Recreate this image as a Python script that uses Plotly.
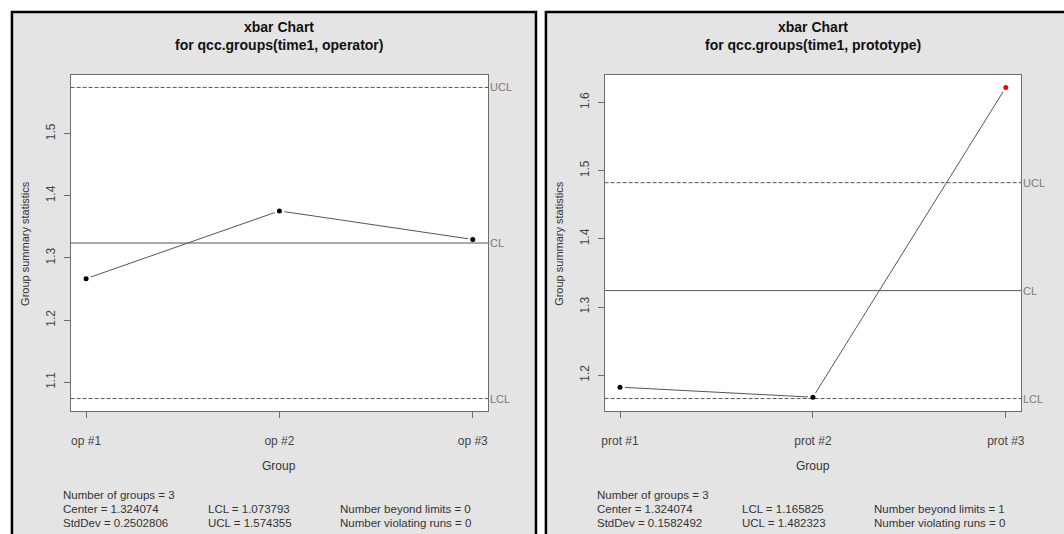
import plotly.graph_objects as go

# Group means and control limits for the two xbar charts
op_groups = ["op #1", "op #2", "op #3"]
op_means = [1.2667, 1.3757, 1.3298]
op_center = 1.324074
op_lcl = 1.073793
op_ucl = 1.574355
op_sd = "0.2502806"
op_beyond = 0

prot_groups = ["prot #1", "prot #2", "prot #3"]
prot_means = [1.1825, 1.1678, 1.6219]
prot_center = 1.324074
prot_lcl = 1.165825
prot_ucl = 1.482323
prot_sd = "0.1582492"
prot_beyond = 1

W, H = 1064, 534
FONT = "Liberation Sans, Arial, sans-serif"
LINE_GREY = "#555555"
LABEL_GREY = "#7a7a7a"
PANEL_BG = "#e4e4e4"

fig = go.Figure()


def px_x(v):
    return v / W


def px_y(v):
    return 1 - v / H


panels = [
    dict(groups=op_groups, means=op_means, center=op_center, lcl=op_lcl, ucl=op_ucl,
         sd=op_sd, beyond=op_beyond, title="for qcc.groups(time1, operator)",
         plot=(68, 488), panel=(9, 536), xa="x", ya="y"),
    dict(groups=prot_groups, means=prot_means, center=prot_center, lcl=prot_lcl, ucl=prot_ucl,
         sd=prot_sd, beyond=prot_beyond, title="for qcc.groups(time1, prototype)",
         plot=(605, 1024), panel=(546, 1070), xa="x2", ya="y2"),
]

PLOT_TOP, PLOT_BOT = 75, 411
shapes = []
annotations = []

for i, p in enumerate(panels):
    n = len(p["groups"])
    xs = list(range(1, n + 1))
    xpad = (n - 1) * 0.04
    xr = [1 - xpad, n + xpad]
    lo = min(p["lcl"], min(p["means"]))
    hi = max(p["ucl"], max(p["means"]))
    pad = (hi - lo) * 0.04
    yr = [lo - pad, hi + pad]

    # panel background with black frame
    shapes.append(dict(type="rect", xref="paper", yref="paper", layer="below",
                       x0=px_x(p["panel"][0]), x1=px_x(p["panel"][1]),
                       y0=-0.1, y1=px_y(12),
                       fillcolor=PANEL_BG, line=dict(color="black", width=2.5)))
    # white plotting region
    x0, x1 = p["plot"]
    shapes.append(dict(type="rect", xref="paper", yref="paper", layer="below",
                       x0=px_x(x0), x1=px_x(x1), y0=px_y(PLOT_BOT), y1=px_y(PLOT_TOP),
                       fillcolor="white", line=dict(width=0)))

    # group means: connecting line
    fig.add_trace(go.Scatter(x=xs, y=p["means"], mode="lines", xaxis=p["xa"], yaxis=p["ya"],
                             line=dict(color=LINE_GREY, width=1), hoverinfo="skip", showlegend=False))
    # white halos leave small gaps between line and points
    fig.add_trace(go.Scatter(x=xs, y=p["means"], mode="markers", xaxis=p["xa"], yaxis=p["ya"],
                             marker=dict(color="white", size=10, line=dict(width=0)),
                             hoverinfo="skip", showlegend=False))
    # control lines
    for val, dash in ((p["center"], "solid"), (p["ucl"], "4px,2px"), (p["lcl"], "4px,2px")):
        fig.add_trace(go.Scatter(x=xr, y=[val, val], mode="lines", xaxis=p["xa"], yaxis=p["ya"],
                                 line=dict(color=LINE_GREY, width=1, dash=dash),
                                 hoverinfo="skip", showlegend=False))
    # points, beyond-limit in red
    colors = ["red" if (m > p["ucl"] or m < p["lcl"]) else "black" for m in p["means"]]
    fig.add_trace(go.Scatter(x=xs, y=p["means"], mode="markers", xaxis=p["xa"], yaxis=p["ya"],
                             marker=dict(color=colors, size=5, line=dict(width=0)),
                             showlegend=False))

    dom_x = [px_x(x0), px_x(x1)]
    dom_y = [px_y(PLOT_BOT), px_y(PLOT_TOP)]
    axis_common = dict(showline=True, mirror=True, linecolor="#6e6e6e", linewidth=1,
                       showgrid=False, zeroline=False, ticks="outside", ticklen=6,
                       tickcolor="#6e6e6e", tickfont=dict(family=FONT, size=12, color="#444444"))
    xkey = "xaxis" if i == 0 else "xaxis2"
    ykey = "yaxis" if i == 0 else "yaxis2"
    fig.update_layout(**{
        xkey: dict(domain=dom_x, range=xr, tickvals=xs, ticktext=p["groups"],
                   anchor=p["ya"], ticklabelstandoff=13, **axis_common),
        ykey: dict(domain=dom_y, range=yr, dtick=0.1, tick0=0, tickformat=".1f",
                   tickangle=-90, anchor=p["xa"], ticklabelstandoff=4, **axis_common),
    })

    cx = (x0 + x1) / 2

    def note(text, x, y, size=11, color="#333333", xanchor="center", angle=0):
        annotations.append(dict(text=text, x=px_x(x), y=px_y(y), xref="paper", yref="paper",
                                xanchor=xanchor, yanchor="middle", textangle=angle,
                                showarrow=False, font=dict(family=FONT, size=size, color=color)))

    # titles
    note("<b>xbar Chart</b>", cx, 27, size=14, color="#111111")
    note("<b>" + p["title"] + "</b>", cx, 45, size=14, color="#111111")
    # axis titles
    note("Group", cx, 466, size=12)
    note("Group summary statistics", x0 - 46, (PLOT_TOP + PLOT_BOT) / 2, angle=-90)
    # control line labels
    xdom = "x domain" if i == 0 else "x2 domain"
    for val, lab in ((p["ucl"], "UCL"), (p["center"], "CL"), (p["lcl"], "LCL")):
        annotations.append(dict(text=lab, x=1, y=val, xref=xdom, yref=p["ya"], xanchor="left",
                                yanchor="middle", xshift=0, showarrow=False,
                                font=dict(family=FONT, size=11, color=LABEL_GREY)))
    # summary statistics
    col1 = x0 - 10
    col2 = col1 + 146
    col3 = col1 + 279
    rows = [
        (col1, 495, "Number of groups = %d" % n),
        (col1, 509, "Center = %.6f" % p["center"]),
        (col1, 523, "StdDev = %s" % p["sd"]),
        (col2, 509, "LCL = %.6f" % p["lcl"]),
        (col2, 523, "UCL = %.6f" % p["ucl"]),
        (col3, 509, "Number beyond limits = %d" % p["beyond"]),
        (col3, 523, "Number violating runs = 0"),
    ]
    for (tx, ty, txt) in rows:
        note(txt, tx, ty, size=11.5, xanchor="left")

fig.update_layout(width=W, height=H, margin=dict(l=0, r=0, t=0, b=0),
                  paper_bgcolor="white", plot_bgcolor="white",
                  shapes=shapes, annotations=annotations, showlegend=False)

fig.write_html("out.html")
